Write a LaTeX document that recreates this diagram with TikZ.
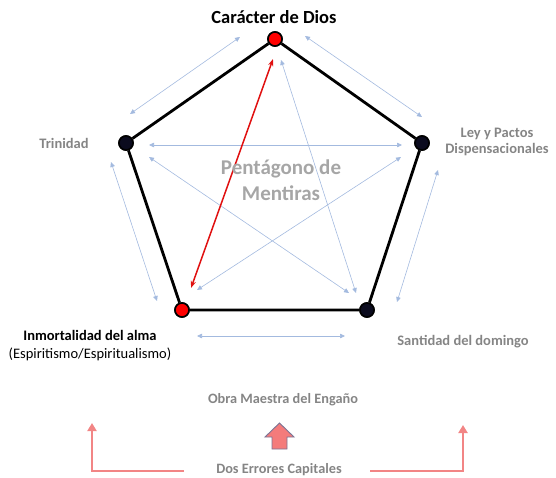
\documentclass[tikz,border=0pt]{standalone}
\usepackage{fontspec}
\setmainfont{Carlito}
\usetikzlibrary{arrows.meta}
\definecolor{txtgray}{HTML}{858585}
\definecolor{pentgray}{HTML}{A6A6A6}
\definecolor{lblue}{HTML}{A3BADF}
\definecolor{vred}{HTML}{FF0000}
\definecolor{vnavy}{HTML}{0B0B1E}
\definecolor{arrred}{HTML}{E01010}
\definecolor{salmon}{HTML}{F28585}
\definecolor{blockfill}{HTML}{F47B7B}
\definecolor{blockline}{HTML}{7A7596}
\tikzset{
  vert/.style={circle, draw=black, line width=1.6pt, minimum width=14pt, minimum height=13pt, inner sep=0pt},
  vr/.style={vert, fill=vred},
  vb/.style={vert, fill=vnavy},
  edge/.style={line width=2.8pt, black},
  blu/.style={lblue, line width=0.6pt, {Triangle[length=5pt,width=4.5pt]}-{Triangle[length=5pt,width=4.5pt]}},
  redarr/.style={arrred, line width=1.5pt, {Stealth[length=7pt,width=5pt]}-{Stealth[length=7pt,width=5pt]}},
  sal/.style={salmon, line width=2.6pt, -{Triangle[length=8pt,width=9pt]}},
  glabel/.style={text=txtgray, font=\bfseries\fontsize{14.5}{17}\selectfont, align=center, inner sep=0pt},
}
\begin{document}
\begin{tikzpicture}[x=1pt,y=-1pt]
\useasboundingbox (0,0) rectangle (556,477);
% vertices
\node[vr] (T)  at (275,39) {};
\node[vb] (L)  at (126,143) {};
\node[vb] (R)  at (422,143) {};
\node[vr] (BL) at (182,310) {};
\node[vb] (BR) at (367,310) {};
% blue arrows (endpoint coordinates)
\coordinate (a1) at (240,37);  \coordinate (b1) at (130,114);
\coordinate (a2) at (305,36);  \coordinate (b2) at (422,117);
\coordinate (a3) at (149,145); \coordinate (b3) at (402,145);
\coordinate (a4) at (111,162); \coordinate (b4) at (157,301);
\coordinate (a5) at (438,170); \coordinate (b5) at (397,302);
\coordinate (a6) at (197,336); \coordinate (b6) at (345,336);
\coordinate (a7) at (281,60);  \coordinate (b7) at (356,293);
\coordinate (a8) at (149,157); \coordinate (b8) at (349,293);
\coordinate (a9) at (401,157); \coordinate (b9) at (197,290);
\coordinate (ra) at (273,59);  \coordinate (rb) at (191,288);
\foreach \i in {1,...,9} {\draw[blu] (a\i) -- (b\i);}
\draw[redarr] (ra) -- (rb);
% pentagon edges
\draw[edge] (T) -- (R) -- (BR) -- (BL) -- (L) -- (T);
\node[vr] at (T) {};
\node[vb] at (L) {};
\node[vb] at (R) {};
\node[vr] at (BL) {};
\node[vb] at (BR) {};
% labels
\node[font=\bfseries\fontsize{18.5}{22}\selectfont, inner sep=0pt] (tdios) at (274,17) {Carácter de Dios};
\node[glabel] (ttri) at (64,143) {Trinidad};
\node[glabel, font=\bfseries\fontsize{14.5}{16}\selectfont] (tley) at (497,142) {Ley y Pactos\\Dispensacionales};
\node[text=pentgray, font=\bfseries\fontsize{21}{26}\selectfont, align=center, inner sep=0pt] (tpent) at (281,180) {Pentágono de\\Mentiras};
\node[font=\fontsize{14.5}{18}\selectfont, align=center, inner sep=0pt] (tinm) at (90,346) {\textbf{Inmortalidad del alma}\\(Espiritismo/Espiritualismo)};
\node[glabel] (tsan) at (463,342) {Santidad del domingo};
\node[glabel, font=\bfseries\fontsize{14.3}{17}\selectfont] (tobra) at (283,400) {Obra Maestra del Engaño};
\node[glabel, font=\bfseries\fontsize{14.3}{17}\selectfont] (tdos) at (279,470) {Dos Errores Capitales};
% block arrow
\draw[blockline, fill=blockfill, line width=0.9pt, line join=miter]
  (265,437) -- (279.5,423) -- (294,437) -- (287,437) -- (287,449) -- (272,449) -- (272,437) -- cycle;
% L arrows
\coordinate (ls) at (184,471); \coordinate (lt) at (92,423);
\coordinate (rs) at (370,471); \coordinate (rt) at (463,425);
\draw[sal] (ls) -| (lt);
\draw[sal] (rs) -| (rt);
\end{tikzpicture}
\end{document}
